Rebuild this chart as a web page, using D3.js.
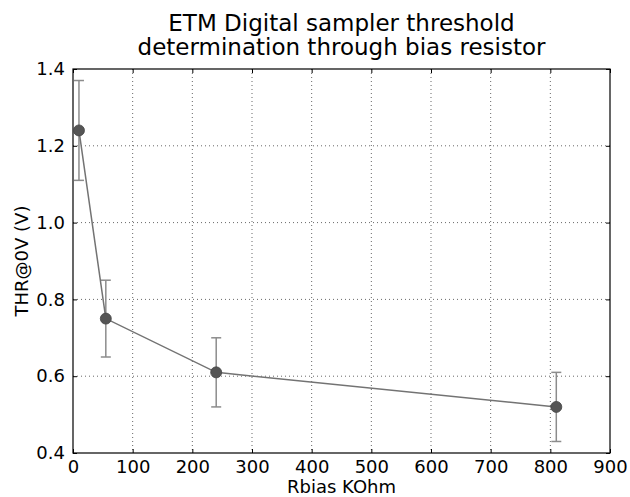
<!DOCTYPE html>
<html>
<head>
<meta charset="utf-8">
<script src="https://cdn.jsdelivr.net/npm/d3@7"></script>
<style>
  body { margin: 0; background: #fff; }
  svg { font-family: "DejaVu Sans", sans-serif; }
</style>
</head>
<body>
<div class="chart"></div>
<script>
var rbias = [10, 55, 240, 810]
var thr = [1.24, 0.75, 0.61, 0.52]
var thrErr = [0.13, 0.10, 0.09, 0.09]
var xTicks = [0, 100, 200, 300, 400, 500, 600, 700, 800, 900]
var yTicks = [0.4, 0.6, 0.8, 1.0, 1.2, 1.4]

var width = 630, height = 497
var mLeft = 73, mRight = 610, mTop = 69, mBottom = 453

var svg = d3.select(".chart").append("svg")
    .attr("width", width)
    .attr("height", height)

var x = d3.scaleLinear().domain([0, 900]).range([mLeft, mRight])
var y = d3.scaleLinear().domain([0.4, 1.4]).range([mBottom, mTop])

// grid
svg.append("g").selectAll("line")
    .data(xTicks.slice(1, -1))
    .enter().append("line")
      .attr("x1", d => x(d)).attr("x2", d => x(d))
      .attr("y1", mTop).attr("y2", mBottom)
      .attr("stroke", "#000").attr("stroke-width", 0.6)
      .attr("stroke-dasharray", "1,3")
svg.append("g").selectAll("line")
    .data(yTicks.slice(1, -1))
    .enter().append("line")
      .attr("x1", mLeft).attr("x2", mRight)
      .attr("y1", d => y(d)).attr("y2", d => y(d))
      .attr("stroke", "#000").attr("stroke-width", 0.6)
      .attr("stroke-dasharray", "1,3")

// axes (ticks inward)
var fmtY = d => d.toFixed(1)
svg.append("g")
    .attr("transform", "translate(0," + mBottom + ")")
    .call(d3.axisBottom(x).tickValues(xTicks).tickSizeInner(-4).tickSizeOuter(0).tickPadding(7))
svg.append("g")
    .attr("transform", "translate(0," + mTop + ")")
    .call(d3.axisTop(x).tickValues(xTicks).tickSizeInner(-4).tickSizeOuter(0).tickFormat(""))
svg.append("g")
    .attr("transform", "translate(" + mLeft + ",0)")
    .call(d3.axisLeft(y).tickValues(yTicks).tickFormat(fmtY).tickSizeInner(-4).tickSizeOuter(0).tickPadding(8))
svg.append("g")
    .attr("transform", "translate(" + mRight + ",0)")
    .call(d3.axisRight(y).tickValues(yTicks).tickSizeInner(-4).tickSizeOuter(0).tickFormat(""))

svg.selectAll(".domain").remove()
svg.selectAll(".tick text")
    .attr("font-family", "DejaVu Sans")
    .attr("font-size", 18)
    .attr("fill", "#000")

// frame
svg.append("rect")
    .attr("x", mLeft).attr("y", mTop)
    .attr("width", mRight - mLeft).attr("height", mBottom - mTop)
    .attr("fill", "none").attr("stroke", "#000").attr("stroke-width", 1.2)

var data = rbias.map(function(d, i) { return {x: d, y: thr[i], e: thrErr[i]} })

// error bars
var eb = svg.append("g").attr("stroke", "#8c8c8c").attr("stroke-width", 1.5)
eb.selectAll(".v").data(data).enter().append("line")
    .attr("x1", d => x(d.x)).attr("x2", d => x(d.x))
    .attr("y1", d => y(d.y - d.e)).attr("y2", d => y(d.y + d.e))
eb.selectAll(".t").data(data).enter().append("line")
    .attr("x1", d => x(d.x) - 5).attr("x2", d => x(d.x) + 5)
    .attr("y1", d => y(d.y + d.e)).attr("y2", d => y(d.y + d.e))
eb.selectAll(".b").data(data).enter().append("line")
    .attr("x1", d => x(d.x) - 5).attr("x2", d => x(d.x) + 5)
    .attr("y1", d => y(d.y - d.e)).attr("y2", d => y(d.y - d.e))

// line
svg.append("path")
    .datum(data)
    .attr("fill", "none")
    .attr("stroke", "#737373")
    .attr("stroke-width", 1.5)
    .attr("d", d3.line().x(d => x(d.x)).y(d => y(d.y)))

// markers
svg.append("g").selectAll("circle")
    .data(data)
    .enter().append("circle")
      .attr("cx", d => x(d.x)).attr("cy", d => y(d.y))
      .attr("r", 5.5)
      .attr("fill", "#555")
      .attr("stroke", "#444").attr("stroke-width", 0.8)

// title and labels
var title = svg.append("text")
    .attr("text-anchor", "middle")
    .attr("font-size", 23)
    .attr("fill", "#000")
title.append("tspan").attr("x", (mLeft + mRight) / 2).attr("y", 31).text("ETM Digital sampler threshold")
title.append("tspan").attr("x", (mLeft + mRight) / 2).attr("y", 55).text("determination through bias resistor")

svg.append("text")
    .attr("x", (mLeft + mRight) / 2).attr("y", 493)
    .attr("text-anchor", "middle")
    .attr("font-size", 18)
    .text("Rbias KOhm")

svg.append("text")
    .attr("transform", "translate(28," + ((mTop + mBottom) / 2) + ") rotate(-90)")
    .attr("text-anchor", "middle")
    .attr("font-size", 18)
    .text("THR@0V (V)")
</script>
</body>
</html>
